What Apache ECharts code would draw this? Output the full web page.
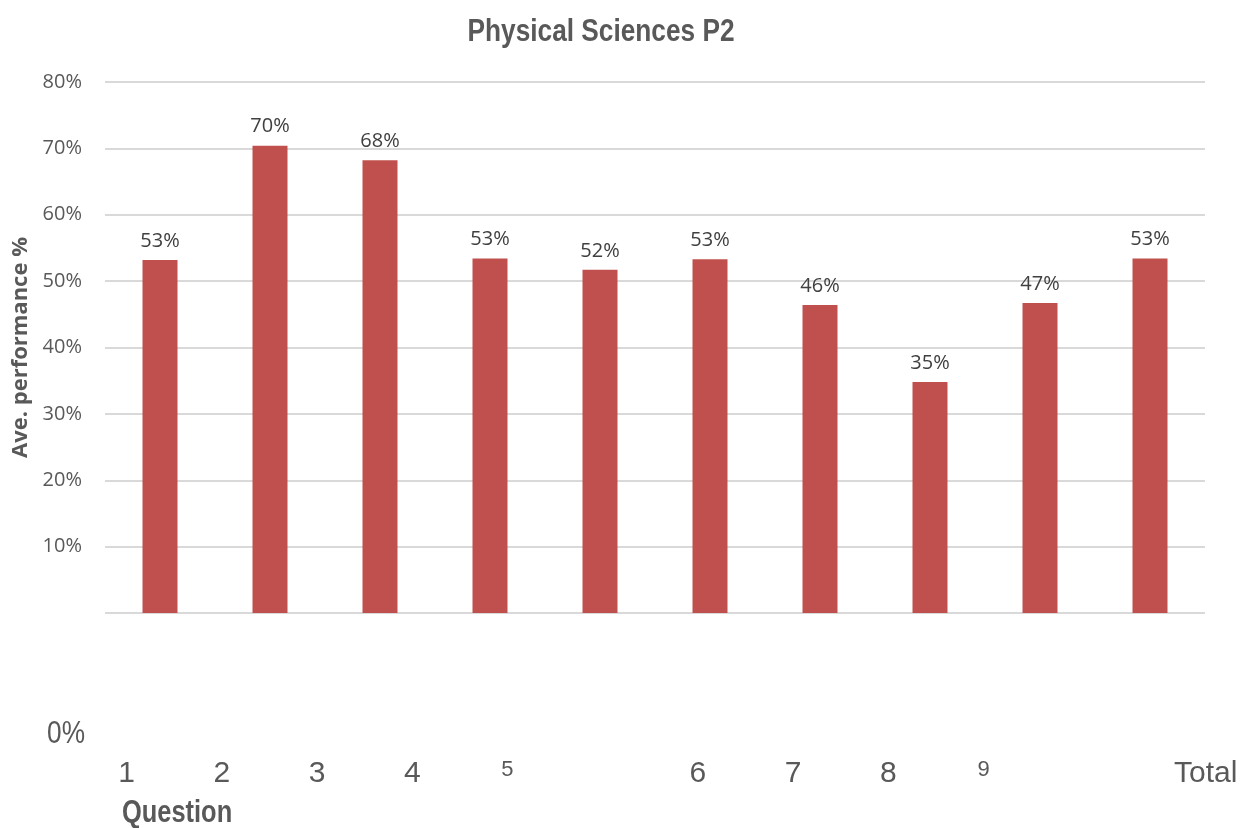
<!DOCTYPE html>
<html>
<head>
<meta charset="utf-8">
<title>Physical Sciences P2</title>
<script src="https://cdn.jsdelivr.net/npm/echarts@6/dist/echarts.min.js"></script>
<style>
  html, body { margin: 0; padding: 0; background: #ffffff; }
  #chart { width: 1240px; height: 828px; }
</style>
</head>
<body>
<div id="chart"></div>
<script>
// Average performance per question, in percent
const questions = ['1', '2', '3', '4', '5', '6', '7', '8', '9', 'Total'];
const avgPerformance = [53.2, 70.4, 68.2, 53.4, 51.7, 53.3, 46.4, 34.8, 46.7, 53.4];

// Bottom question row (spaced apart from the bars, with two empty slots)
const questionRow = ['1', '2', '3', '4', '5', '', '6', '7', '8', '9', '', 'Total'];
const smallRowLabels = ['5', '9'];
const zeroLabel = '0%';

const chartTitle = 'Physical Sciences P2';
const yTitle = 'Ave. performance %';
const xTitle = 'Question';

// Narrow headings: regular sans squeezed horizontally
const narrow = '"Liberation Sans", Arial, sans-serif';
const squeeze = 0.82;
const body = '"Open Sans", "Noto Sans", sans-serif';

const chart = echarts.init(document.getElementById('chart'), null, { renderer: 'canvas' });

const rowData = questionRow.map(q => {
  if (q === 'Total') return { value: q, textStyle: { align: 'left' } };
  if (smallRowLabels.includes(q)) return { value: q, textStyle: { fontSize: 22 } };
  return q;
});

chart.setOption({
  animation: false,
  backgroundColor: '#ffffff',
  grid: [
    { left: 105, right: 35, top: 82, bottom: 215 },
    { left: 79, width: 1152, top: 748, height: 2 }
  ],
  xAxis: [
    {
      type: 'category', gridIndex: 0, data: questions,
      axisLine: { show: false }, axisTick: { show: false }, axisLabel: { show: false }
    },
    {
      type: 'category', gridIndex: 1, data: rowData,
      axisLine: { show: false }, axisTick: { show: false },
      axisLabel: {
        interval: 0, margin: 9, fontFamily: narrow, fontSize: 30, color: '#595959',
        verticalAlign: 'top'
      }
    }
  ],
  yAxis: [
    {
      type: 'value', gridIndex: 0, min: 0, max: 80, interval: 10,
      axisLine: { show: false }, axisTick: { show: false },
      splitLine: { lineStyle: { color: '#D9D9D9', width: 2 } },
      axisLabel: {
        showMinLabel: false, formatter: '{value}%', margin: 23,
        fontFamily: body, fontSize: 20, color: '#595959'
      },
      name: yTitle, nameLocation: 'middle', nameRotate: 90, nameGap: 71,
      nameTextStyle: { fontFamily: body, fontWeight: 'bold', fontSize: 22, color: '#595959' }
    },
    {
      type: 'value', gridIndex: 1, show: false
    }
  ],
  graphic: [
    {
      type: 'text', x: 601, y: 16, scaleX: squeeze,
      style: {
        text: chartTitle, font: 'bold 32px ' + narrow, fill: '#595959',
        align: 'center', verticalAlign: 'top'
      }
    },
    {
      type: 'text', x: 85, y: 734, scaleX: squeeze,
      style: {
        text: zeroLabel, font: '32px ' + narrow, fill: '#595959',
        align: 'right', verticalAlign: 'middle'
      }
    },
    {
      type: 'text', x: 122, y: 813, scaleX: squeeze,
      style: {
        text: xTitle, font: 'bold 31px ' + narrow, fill: '#595959',
        align: 'left', verticalAlign: 'middle'
      }
    }
  ],
  series: [
    {
      type: 'bar', xAxisIndex: 0, yAxisIndex: 0,
      data: avgPerformance,
      barWidth: 35,
      itemStyle: { color: '#C0504D' },
      label: {
        show: true, position: 'top', distance: 9,
        formatter: p => Math.round(p.value) + '%',
        fontFamily: body, fontSize: 20, color: '#404040'
      }
    }
  ]
});
</script>
</body>
</html>
